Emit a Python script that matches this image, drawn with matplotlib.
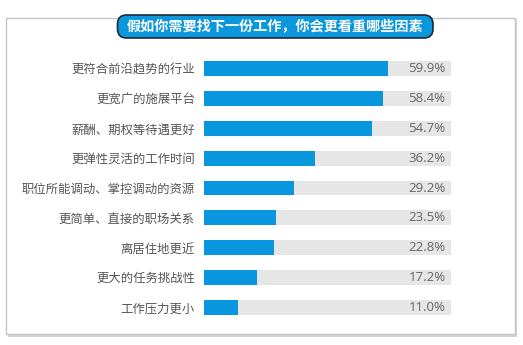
import matplotlib
matplotlib.use("Agg")
import matplotlib.pyplot as plt
from matplotlib.patches import FancyBboxPatch, Rectangle

plt.rcParams['font.family'] = ['Noto Sans CJK SC', 'DejaVu Sans']

title = "假如你需要找下一份工作，你会更看重哪些因素"
categories = ["更符合前沿趋势的行业", "更宽广的施展平台", "薪酬、期权等待遇更好",
              "更弹性灵活的工作时间", "职位所能调动、掌控调动的资源", "更简单、直接的职场关系",
              "离居住地更近", "更大的任务挑战性", "工作压力更小"]
values = [59.9, 58.4, 54.7, 36.2, 29.2, 23.5, 22.8, 17.2, 11.0]
track_max = 80.4

W, H = 523, 345
fig = plt.figure(figsize=(W / 100, H / 100), dpi=100)
fig.patch.set_facecolor('white')

# background axes in pixel coordinates
bg = fig.add_axes([0, 0, 1, 1])
bg.set_xlim(0, W)
bg.set_ylim(H, 0)
bg.axis('off')
bg.add_patch(Rectangle((7.5, 19.5), 509, 317, facecolor='#d4d4d4', edgecolor='none', zorder=0))
bg.add_patch(Rectangle((6, 18), 509, 316, facecolor='white', edgecolor='#c4c4c4',
                       linewidth=1.0, zorder=1))
bg.add_patch(FancyBboxPatch((117.5, 15), 315.5, 23, boxstyle="round,pad=0,rounding_size=9",
                            facecolor='#0a97dc', edgecolor='#1b2a3a', linewidth=1.2, zorder=2))
bg.text(275.5, 26.5, title, ha='center', va='center', color='white',
        fontsize=10.2, fontweight='bold', zorder=3)

# bar axes
left, right = 204, 451
top, bottom = 54, 322
ax = fig.add_axes([left / W, 1 - bottom / H, (right - left) / W, (bottom - top) / H])
ax.patch.set_alpha(0)
ypos = list(range(len(categories)))
ax.barh(ypos, [track_max] * len(values), height=0.5, color='#e6e6e6', zorder=1)
ax.barh(ypos, values, height=0.5, color='#0896df', zorder=2)
ax.set_xlim(0, track_max)
ax.set_ylim(len(categories) - 0.5, -0.5)
ax.set_yticks(ypos)
ax.set_yticklabels(categories, fontsize=8.9, color='#555555')
ax.tick_params(axis='y', length=0, pad=6.5)
ax.set_xticks([])
for s in ax.spines.values():
    s.set_visible(False)
for y, v in zip(ypos, values):
    ax.annotate(f"{v:.1f}%", xy=(track_max, y), xytext=(-4, 0), textcoords='offset points',
                ha='right', va='center', fontsize=9.5, color='#666666',
                family=['Open Sans', 'DejaVu Sans'])

fig.savefig("out.png", dpi=100, facecolor='white')
